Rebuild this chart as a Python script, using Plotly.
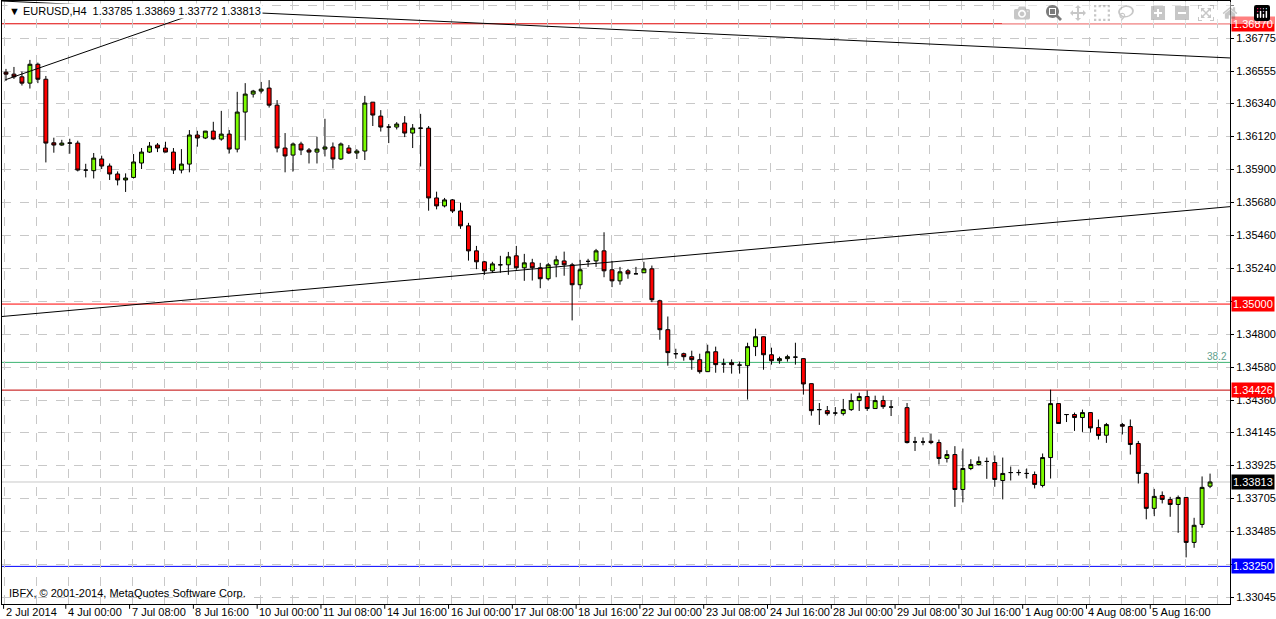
import plotly.graph_objects as go

opens = [1.36547,1.36534,1.36516,1.36474,1.36600,1.36500,1.36076,1.36061,1.36073,1.36074,
1.35894,1.35890,1.35968,1.35921,1.35868,1.35828,1.35845,1.35941,1.36014,1.36061,
1.36041,1.36014,1.35894,1.35934,1.36128,1.36108,1.36154,1.36101,1.36134,1.36034,
1.36281,1.36401,1.36421,1.36441,1.36327,1.36041,1.35994,1.36068,1.36028,1.36014,
1.36034,1.36048,1.35968,1.36041,1.36008,1.36021,1.36347,1.36254,1.36181,1.36181,
1.36208,1.36141,1.36173,1.36174,1.35708,1.35655,1.35695,1.35621,1.35522,1.35355,
1.35282,1.35222,1.35262,1.35262,1.35322,1.35242,1.35275,1.35242,1.35169,1.35262,
1.35288,1.35262,1.35129,1.35285,1.35288,1.35355,1.35229,1.35155,1.35222,1.35202,
1.35209,1.35235,1.35022,1.34829,1.34669,1.34669,1.34649,1.34629,1.34549,1.34682,
1.34600,1.34609,1.34593,1.34589,1.34716,1.34782,1.34662,1.34622,1.34636,1.34646,
1.34636,1.34469,1.34296,1.34289,1.34273,1.34269,1.34296,1.34356,1.34383,1.34303,
1.34356,1.34313,None,1.34309,1.34080,1.34080,1.34085,1.34076,1.33970,1.33996,
1.33763,1.33903,1.33930,1.33950,1.33943,1.33823,1.33876,1.33876,1.33870,1.33863,
1.33790,1.33976,1.34336,1.34263,1.34263,1.34243,1.34276,1.34176,1.34125,None,
1.34196,1.34183,1.34070,1.33870,1.33637,1.33723,1.33697,1.33663,1.33710,1.33410,
1.33530,1.33785]
highs = [1.36569,1.36582,1.36551,1.36629,1.36611,1.36522,1.36110,1.36096,1.36103,1.36090,
1.35936,1.36008,1.35990,1.35938,1.35885,1.35872,1.36001,1.36041,1.36081,1.36074,
1.36083,1.36041,1.36034,1.36161,1.36156,1.36155,1.36216,1.36289,1.36161,1.36416,
1.36474,1.36429,1.36482,1.36494,1.36361,1.36141,1.36078,1.36083,1.36041,1.36116,
1.36236,1.36078,1.36078,1.36061,1.36034,1.36389,1.36347,1.36294,1.36201,1.36214,
1.36254,1.36201,1.36269,1.36188,1.35750,1.35708,1.35701,1.35675,1.35542,1.35388,
1.35288,1.35282,1.35322,1.35348,1.35388,1.35335,1.35302,1.35275,1.35275,1.35322,
1.35350,1.35275,1.35295,1.35302,1.35368,1.35479,1.35288,1.35248,1.35235,1.35248,
1.35282,1.35257,1.35029,1.34917,1.34702,1.34676,1.34689,1.34669,1.34729,1.34716,
1.34636,1.34631,1.34616,1.34742,1.34836,1.34784,1.34709,1.34649,1.34662,1.34742,
1.34638,1.34471,1.34340,1.34320,1.34313,1.34367,1.34403,1.34409,1.34423,1.34389,
1.34389,1.34358,None,1.34340,1.34114,1.34110,1.34136,1.34096,1.34025,1.34052,
1.34036,1.33965,1.33983,1.33976,1.33990,1.33976,1.33916,1.33896,1.33903,1.33883,
1.34003,1.34429,1.34338,1.34265,1.34276,1.34296,1.34278,1.34230,1.34207,None,
1.34207,1.34230,1.34087,1.33876,1.33767,1.33750,1.33714,1.33723,1.33712,1.33574,
1.33850,1.33869]
lows = [1.36489,1.36502,1.36458,1.36438,1.36474,1.35945,1.36010,1.36056,1.36003,1.35885,
1.35845,1.35838,1.35901,1.35828,1.35792,1.35748,1.35838,1.35901,1.36008,1.36014,
1.36012,1.35868,1.35872,1.35879,1.36050,1.36101,1.36094,1.36090,1.36005,1.36012,
1.36092,1.36378,1.36405,1.36311,1.36012,1.35879,1.35885,1.35994,1.35938,1.35938,
1.35985,1.35905,1.35961,1.36001,1.35968,1.35961,1.36188,1.36151,1.36074,1.36165,
1.36114,1.36041,1.35918,1.35623,1.35632,1.35645,1.35608,1.35502,1.35290,1.35233,
1.35195,1.35209,1.35209,1.35195,1.35229,1.35155,1.35157,1.35106,1.35157,1.35179,
1.35189,1.34891,1.35099,1.35248,1.35248,1.35179,1.35113,1.35129,1.35169,1.35200,
1.35207,1.35013,1.34762,1.34589,1.34636,1.34622,1.34562,1.34536,1.34547,1.34542,
1.34542,1.34536,1.34536,1.34363,1.34653,1.34562,1.34596,1.34602,1.34616,1.34596,
1.34396,1.34256,1.34194,1.34256,1.34256,1.34256,1.34287,1.34287,1.34287,1.34301,
1.34301,1.34253,None,1.34070,1.34020,1.34058,1.34065,1.33930,1.33943,1.33647,
1.33677,1.33892,1.33923,1.33834,1.33781,1.33697,1.33823,1.33856,1.33836,1.33770,
1.33777,1.33836,1.34201,1.34213,1.34154,1.34147,1.34143,1.34096,1.34074,None,
1.34130,1.33996,1.33803,1.33564,1.33585,1.33670,1.33581,1.33474,1.33310,1.33374,
1.33508,1.33772]
closes = [1.36534,1.36516,1.36474,1.36600,1.36500,1.36074,1.36061,1.36074,1.36075,1.35894,
1.35894,1.35974,1.35921,1.35868,1.35828,1.35841,1.35948,1.36014,1.36054,1.36041,
1.36014,1.35894,1.35934,1.36128,1.36108,1.36154,1.36101,1.36134,1.36034,1.36281,
1.36401,1.36421,1.36434,1.36327,1.36041,1.35988,1.36068,1.36028,1.36014,1.36034,
1.36048,1.35968,1.36068,1.36008,1.36021,1.36341,1.36261,1.36181,1.36181,1.36201,
1.36141,1.36174,1.36174,1.35708,1.35655,1.35695,1.35621,1.35522,1.35355,1.35282,
1.35222,1.35268,1.35262,1.35315,1.35242,1.35275,1.35242,1.35169,1.35262,1.35295,
1.35262,1.35129,1.35229,1.35285,1.35355,1.35222,1.35155,1.35215,1.35202,1.35202,
1.35235,1.35029,1.34829,1.34676,1.34669,1.34649,1.34629,1.34549,1.34682,1.34596,
1.34600,1.34596,1.34593,1.34716,1.34782,1.34662,1.34622,1.34636,1.34649,1.34646,
1.34467,1.34289,1.34296,1.34269,1.34273,1.34296,1.34356,1.34383,1.34303,1.34356,
1.34316,1.34313,None,1.34076,1.34080,1.34080,1.34076,1.33970,1.33996,1.33763,
1.33903,1.33930,1.33950,1.33950,1.33830,1.33870,1.33876,1.33876,1.33870,1.33797,
1.33976,1.34336,1.34203,1.34263,1.34243,1.34276,1.34174,1.34123,1.34196,None,
1.34185,1.34063,1.33870,1.33637,1.33717,1.33697,1.33663,1.33710,1.33410,1.33524,
1.33777,1.33813]

date_labels = ["2 Jul 2014","4 Jul 00:00","7 Jul 08:00","8 Jul 16:00","10 Jul 00:00",
"11 Jul 08:00","14 Jul 16:00","16 Jul 00:00","17 Jul 08:00","18 Jul 16:00","22 Jul 00:00",
"23 Jul 08:00","24 Jul 16:00","28 Jul 00:00","29 Jul 08:00","30 Jul 16:00","1 Aug 00:00",
"4 Aug 08:00","5 Aug 16:00"]
price_ticks = [1.36995,1.36775,1.36555,1.36340,1.36120,1.35900,1.35680,1.35460,1.35240,
1.35020,1.34800,1.34580,1.34360,1.34145,1.33925,1.33705,1.33485,1.33265,1.33045]
hidden_ticks = [1.35020,1.33265]

# trendlines: (bar index, price) endpoints
trend1_x = [-0.1, 26.5]; trend1_y = [1.36496, 1.36989]
trend2_x = [-0.5, 153.5]; trend2_y = [1.37022, 1.36642]
trend3_x = [-0.5, 153.5]; trend3_y = [1.34917, 1.35650]

# horizontal levels: price, colour, label bg
levels = [(1.36870, "#e00000", "#ff0000"), (1.35000, "#ff0000", "#ff0000"),
          (1.34426, "#c00000", "#ff0000"), (1.33250, "#0000ff", "#0000ff")]
fib_level = 1.34611
bid = 1.33813

x = list(range(len(opens)))
fig = go.Figure()
fig.add_trace(go.Candlestick(x=x, open=opens, high=highs, low=lows, close=closes,
    increasing=dict(line=dict(color="black", width=1), fillcolor="#7cfc00"),
    decreasing=dict(line=dict(color="black", width=1), fillcolor="#ff0000"),
    whiskerwidth=0, showlegend=False, hoverinfo="skip"))
for tx, ty in [(trend1_x, trend1_y), (trend2_x, trend2_y), (trend3_x, trend3_y)]:
    fig.add_trace(go.Scatter(x=tx, y=ty, mode="lines", line=dict(color="black", width=1),
                             showlegend=False, hoverinfo="skip"))

shapes = []
for p, c, _ in levels:
    shapes.append(dict(type="line", xref="paper", x0=0, x1=1, yref="y", y0=p, y1=p,
                       line=dict(color=c, width=1), layer="below"))
shapes.append(dict(type="line", xref="paper", x0=0, x1=1, yref="y", y0=fib_level, y1=fib_level,
                   line=dict(color="#3cb371", width=1), layer="below"))
shapes.append(dict(type="line", xref="paper", x0=0, x1=1, yref="y", y0=bid, y1=bid,
                   line=dict(color="#c8c8c8", width=1), layer="below"))
for k in range(len(date_labels)):
    xv = 8 * k - 0.5 if k else -0.3
    shapes.append(dict(type="line", xref="x", x0=xv, x1=xv, yref="paper", y0=0, y1=-0.008,
                       line=dict(color="black", width=1)))

ann = []
F = "Liberation Sans, Arial, sans-serif"
for k, t in enumerate(date_labels):
    xv = 8 * k - 0.5 if k else -0.3
    ann.append(dict(x=xv, xref="x", y=0, yref="paper", yanchor="top", xanchor="left",
                    text=t, showarrow=False, font=dict(family=F, size=11, color="black"),
                    xshift=0, yshift=0))
for p, c, bg in levels:
    ann.append(dict(x=1, xref="paper", y=p, yref="y", xanchor="left", yanchor="middle",
                    text=f"{p:.5f}", showarrow=False, bgcolor=bg, borderpad=1, xshift=1,
                    font=dict(family=F, size=11, color="white")))
ann.append(dict(x=1, xref="paper", y=bid, yref="y", xanchor="left", yanchor="middle",
                text=f"{bid:.5f}", showarrow=False, bgcolor="black", borderpad=1, xshift=1,
                font=dict(family=F, size=11, color="white")))
ann.append(dict(x=1, xref="paper", y=fib_level, yref="y", xanchor="right", yanchor="bottom",
                text="38.2", showarrow=False, font=dict(family=F, size=10, color="#5fa08c"),
                xshift=-1, yshift=-2))
ann.append(dict(x=0.004, xref="paper", y=1, yref="paper", xanchor="left", yanchor="top",
                text="▼ EURUSD,H4  1.33785 1.33869 1.33772 1.33813", showarrow=False,
                bgcolor="white", font=dict(family=F, size=11, color="black"), yshift=-2))
ann.append(dict(x=0.004, xref="paper", y=0, yref="paper", xanchor="left", yanchor="bottom",
                text="IBFX, © 2001-2014, MetaQuotes Software Corp.", showarrow=False,
                font=dict(family=F, size=11, color="black"), yshift=3))

fig.update_layout(
    width=1276, height=619, margin=dict(l=2, r=46, t=1, b=15),
    paper_bgcolor="white", plot_bgcolor="white",
    shapes=shapes, annotations=ann,
    xaxis=dict(range=[-0.5, 153.5], rangeslider=dict(visible=False),
               tickvals=[4 * k - 0.125 for k in range(39)], showticklabels=False,
               showgrid=True, gridcolor="#c8c8c8", griddash="dash", gridwidth=1,
               showline=True, linecolor="black", mirror=True, zeroline=False, ticks=""),
    yaxis=dict(range=[1.32999, 1.37022], side="right", tickvals=price_ticks,
               ticktext=["" if t in hidden_ticks else f"{t:.5f}" for t in price_ticks],
               showgrid=True, gridcolor="#c8c8c8", griddash="dash", gridwidth=1,
               showline=True, linecolor="black", mirror=True, zeroline=False,
               ticks="outside", ticklen=3, tickcolor="black",
               tickfont=dict(family=F, size=11, color="black")),
)
fig.write_html("out.html", post_script="document.body.style.margin='0';document.body.style.overflow='hidden';")
